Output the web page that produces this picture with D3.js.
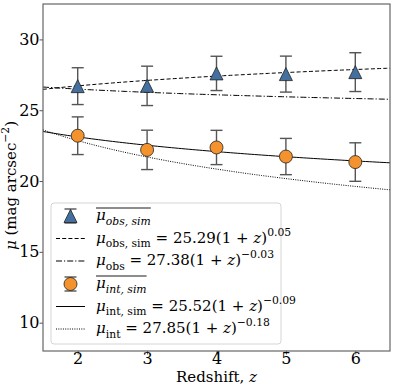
<!DOCTYPE html>
<html>
<head>
<meta charset="utf-8">
<script src="https://cdn.jsdelivr.net/npm/d3@7"></script>
<style>
  body { margin: 0; background: #fff; }
  svg text { font-family: "DejaVu Serif", serif; fill: #000; }
</style>
</head>
<body>
<svg id="svg"></svg>
<script>
var width = 395, height = 388,
    margin = {top: 4, left: 43, right: 5, bottom: 37},
    plotW = width - margin.left - margin.right,
    plotH = height - margin.top - margin.bottom;

// data
var redshift = [2, 3, 4, 5, 6];
var obsMean = [26.70, 26.72, 27.60, 27.55, 27.69];
var obsErr  = [1.30, 1.39, 1.21, 1.27, 1.37];
var intMean = [23.20, 22.20, 22.37, 21.73, 21.34];
var intErr  = [1.33, 1.39, 1.21, 1.28, 1.36];

// power law fits mu = a (1+z)^b, from the legend
var fitNames = ["obs, sim", "obs", "int, sim", "int"];
var fitA = [25.29, 27.38, 25.52, 27.85];
var fitB = [0.05, -0.03, -0.09, -0.18];
var fitDash = ["4,2.2", "6,2,1.2,2", null, "1,1.3"];

var xTicks = [2, 3, 4, 5, 6];
var yTicks = [10, 15, 20, 25, 30];

var svg = d3.select("#svg").attr("width", width).attr("height", height);

var x = d3.scaleLinear().domain([1.5, 6.5]).range([0, plotW]);
var y = d3.scaleLinear().domain([8, 32.5]).range([plotH, 0]);

var g = svg.append("g").attr("transform", "translate(" + margin.left + "," + margin.top + ")");

svg.append("clipPath").attr("id", "clip")
    .append("rect").attr("width", plotW).attr("height", plotH);

// fit curves
var zs = d3.range(1.5, 6.5001, 0.05);
var line = d3.line().x(function(d) { return x(d[0]); }).y(function(d) { return y(d[1]); });
var curves = g.append("g").attr("clip-path", "url(#clip)");
fitA.forEach(function(a, i) {
    var pts = zs.map(function(z) { return [z, a * Math.pow(1 + z, fitB[i])]; });
    curves.append("path")
        .attr("d", line(pts))
        .attr("fill", "none")
        .attr("stroke", "#000")
        .attr("stroke-width", 1)
        .attr("stroke-dasharray", fitDash[i]);
});

function triangle(s) {
    var h = s / 2;
    return "M0," + (-h) + "L" + (-h) + "," + h + "L" + h + "," + h + "Z";
}

function errbar(sel, cx, y0, y1) {
    sel.append("line").attr("x1", cx).attr("x2", cx).attr("y1", y0).attr("y2", y1)
        .attr("stroke", "#555").attr("stroke-width", 1.4);
    [y0, y1].forEach(function(yy) {
        sel.append("line").attr("x1", cx - 6).attr("x2", cx + 6).attr("y1", yy).attr("y2", yy)
            .attr("stroke", "#555").attr("stroke-width", 1.4);
    });
}

// error bars + markers
var pts = g.append("g");
redshift.forEach(function(z, i) {
    errbar(pts, x(z), y(obsMean[i] + obsErr[i]), y(obsMean[i] - obsErr[i]));
    errbar(pts, x(z), y(intMean[i] + intErr[i]), y(intMean[i] - intErr[i]));
});
redshift.forEach(function(z, i) {
    pts.append("path").attr("d", triangle(13))
        .attr("transform", "translate(" + x(z) + "," + y(obsMean[i]) + ")")
        .attr("fill", "#44709f").attr("stroke", "#222").attr("stroke-width", 0.8);
    pts.append("circle").attr("cx", x(z)).attr("cy", y(intMean[i])).attr("r", 6.5)
        .attr("fill", "#f4922d").attr("stroke", "#222").attr("stroke-width", 0.8);
});

// axes
var axX = g.append("g").attr("transform", "translate(0," + plotH + ")")
    .call(d3.axisBottom(x).tickValues(xTicks).tickFormat(d3.format("d")).tickSize(3.5).tickPadding(-2));
var axY = g.append("g")
    .call(d3.axisLeft(y).tickValues(yTicks).tickSize(3.5).tickPadding(0));
[axX, axY].forEach(function(a) {
    a.select(".domain").remove();
    a.selectAll("line").attr("stroke", "#555");
    a.selectAll("text").style("font-family", "DejaVu Serif, serif").style("font-size", "16px").attr("fill", "#000");
});
g.append("rect").attr("width", plotW).attr("height", plotH)
    .attr("fill", "none").attr("stroke", "#666").attr("stroke-width", 1.2);

// rich text helper: parts = [{t, it, sub, sup}]
function rich(sel, parts, size) {
    var t = sel.append("text").style("font-size", size + "px");
    var shift = 0;
    parts.forEach(function(p) {
        var target = p.sub ? size * 0.3 : (p.sup ? -size * 0.45 : 0);
        t.append("tspan").text(p.t)
            .attr("dy", target - shift)
            .style("font-style", p.it ? "italic" : "normal")
            .style("font-size", (p.sub || p.sup ? size * 0.72 : size) + "px");
        shift = target;
    });
    return t;
}

// axis labels
rich(svg, [{t: "Redshift, "}, {t: "z", it: true}], 15)
    .attr("x", margin.left + plotW / 2).attr("y", 382).attr("text-anchor", "middle");
rich(svg, [{t: "\u03bc", it: true}, {t: " (mag arcsec"}, {t: "\u22122", sup: true}, {t: ")"}], 15)
    .attr("text-anchor", "middle")
    .attr("transform", "translate(16," + (margin.top + plotH / 2 + 8) + ") rotate(-90)");

// legend
var leg = svg.append("g");
leg.append("rect").attr("x", 51).attr("y", 203).attr("width", 230).attr("height", 141)
    .attr("rx", 3).attr("fill", "#fff").attr("fill-opacity", 0.8)
    .attr("stroke", "#d5d5d5").attr("stroke-width", 1);

var rowY = [216, 238.5, 261, 284, 306.5, 329];
var hx0 = 56, hx1 = 85, hc = 70.5, tx = 96, fs = 15;

function fitLabel(i) {
    var b = fitB[i];
    var exp = (b < 0 ? "\u2212" : "") + Math.abs(b).toFixed(2);
    return [{t: "\u03bc", it: true}, {t: fitNames[i], sub: true},
            {t: " = " + fitA[i].toFixed(2) + "(1 + "}, {t: "z", it: true}, {t: ")"}, {t: exp, sup: true}];
}

function meanLabel(row, name) {
    var t = rich(leg, [{t: "\u03bc", it: true}, {t: name, sub: true, it: true}], fs)
        .attr("x", tx).attr("y", rowY[row] + 4);
    var bb = t.node().getBBox();
    leg.append("line").attr("x1", tx).attr("x2", tx + bb.width)
        .attr("y1", rowY[row] - 8).attr("y2", rowY[row] - 8)
        .attr("stroke", "#000").attr("stroke-width", 0.9);
}

// row 0: obs markers
errbar(leg, hc, rowY[0] - 7, rowY[0] + 7);
leg.append("path").attr("d", triangle(13)).attr("transform", "translate(" + hc + "," + rowY[0] + ")")
    .attr("fill", "#44709f").attr("stroke", "#222").attr("stroke-width", 0.8);
meanLabel(0, "obs, sim");

// row 3: int markers
errbar(leg, hc, rowY[3] - 7, rowY[3] + 7);
leg.append("circle").attr("cx", hc).attr("cy", rowY[3]).attr("r", 6.5)
    .attr("fill", "#f4922d").attr("stroke", "#222").attr("stroke-width", 0.8);
meanLabel(3, "int, sim");

var fitRows = [1, 2, 4, 5];
fitRows.forEach(function(r, i) {
    leg.append("line").attr("x1", hx0).attr("x2", hx1).attr("y1", rowY[r]).attr("y2", rowY[r])
        .attr("stroke", "#000").attr("stroke-width", 1).attr("stroke-dasharray", fitDash[i]);
    rich(leg, fitLabel(i), fs).attr("x", tx).attr("y", rowY[r] + 4);
});
</script>
</body>
</html>
